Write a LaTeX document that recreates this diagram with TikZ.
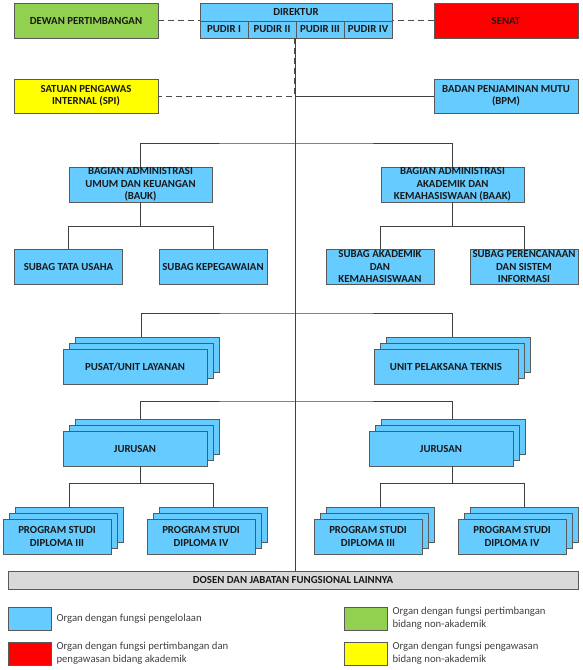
\documentclass[tikz,border=0pt]{standalone}
\usepackage{fontspec}
\setmainfont{Carlito}
\usetikzlibrary{positioning,shadows}
\definecolor{organblue}{HTML}{66CCFF}
\definecolor{organgreen}{HTML}{92D050}
\definecolor{organred}{HTML}{FF0000}
\definecolor{organyellow}{HTML}{FFFF00}
\definecolor{dosengray}{HTML}{D9D9D9}
\definecolor{linegray}{HTML}{404040}

\begin{document}
\begin{tikzpicture}[x=1pt,y=-1pt,
    organ/.style={draw=black!65,line width=0.9pt,fill=organblue,inner sep=0pt,
        minimum width=144pt,minimum height=35pt,align=center,
        font=\bfseries\fontsize{10.8}{12.3}\selectfont,text=black!90},
    small/.style={organ,minimum width=108pt},
    stack/.style={double copy shadow={shadow xshift=6pt,shadow yshift=6pt}},
    link/.style={draw=linegray,line width=0.8pt},
    advice/.style={draw=black!70,line width=1pt,dash pattern=on 6pt off 4pt},
    legend/.style={anchor=west,align=left,text=black!75,font=\fontsize{10.7}{13}\selectfont}]

            \useasboundingbox (0,0) rectangle (583,670);

            \node (dewan) at (86,20.5) [organ,fill=organgreen] {DEWAN PERTIMBANGAN};
            \node (senat) at (506,20.5) [organ,fill=organred] {SENAT};
            \node (dir) at (296,12) [organ,minimum width=192pt,minimum height=18pt] {DIREKTUR};
            \foreach \i/\r in {1/I,2/II,3/III,4/IV} {
                \node (p\i) at (176+48*\i,29.5) [organ,minimum width=48pt,minimum height=17pt] {PUDIR \r};
            }
            \node (spi) at (86,96) [organ,fill=organyellow,minimum height=34pt] {SATUAN PENGAWAS\\INTERNAL (SPI)};
            \node (bpm) at (506,96) [organ,minimum height=34pt] {BADAN PENJAMINAN MUTU\\(BPM)};

            \node (bauk) at (140.5,184.5) [organ,minimum width=143pt] {BAGIAN ADMINISTRASI\\UMUM DAN KEUANGAN\\(BAUK)};
            \node (baak) at (452.5,184.5) [organ,minimum width=143pt] {BAGIAN ADMINISTRASI\\AKADEMIK DAN\\KEMAHASISWAAN (BAAK)};
            \node (tu) at (68.5,266.5) [small] {SUBAG TATA USAHA};
            \node (kep) at (213,266.5) [small] {SUBAG KEPEGAWAIAN};
            \node (akd) at (380,266.5) [small] {SUBAG AKADEMIK\\DAN\\KEMAHASISWAAN};
            \node (per) at (524,266.5) [small] {SUBAG PERENCANAAN\\DAN SISTEM\\INFORMASI};

            \node (pusat) at (135,366.5) [organ,stack] {PUSAT/UNIT LAYANAN};
            \node (upt) at (446,366.5) [organ,stack] {UNIT PELAKSANA TEKNIS};
            \node (jl) at (135,448.5) [organ,stack] {JURUSAN};
            \node (jr) at (441,448.5) [organ,stack] {JURUSAN};
            \node (ps1) at (57,536.5) [small,stack] {PROGRAM STUDI\\DIPLOMA III};
            \node (ps2) at (201,536.5) [small,stack] {PROGRAM STUDI\\DIPLOMA IV};
            \node (ps3) at (368,536.5) [small,stack] {PROGRAM STUDI\\DIPLOMA III};
            \node (ps4) at (512,536.5) [small,stack] {PROGRAM STUDI\\DIPLOMA IV};

            \node (dosen) at (293,580) [organ,fill=dosengray,minimum width=570pt,minimum height=18pt] {DOSEN DAN JABATAN FUNGSIONAL LAINNYA};

            \draw[advice] (dewan.east) -- (dewan.east -| dir.west);
            \draw[advice] (senat.west) -- (senat.west -| dir.east);
            \draw[advice] ([xshift=-1pt]p3.south west) -- ([xshift=-1pt]p3.south west |- spi.east) -- (spi.east);
            \draw[link] (p3.south west) -- (p3.south west |- dosen.north);
            \draw[link] (bpm.west) -- (bpm.west -| p3.south west);

            \coordinate (j1) at (296,143);
            \coordinate (j3) at (296,313);
            \coordinate (j4) at (296,401);
            \draw[link] (bauk.north) |- (j1) -| (baak.north);
            \foreach \up/\a/\b in {bauk/tu/kep,baak/akd/per} {
                \draw[link] (\up.south) -- ++(0,24) coordinate (b-\up);
                \draw[link] (\a.north) |- (b-\up) -| (\b.north);
            }
            \draw[link] ([xshift=6pt,yshift=12pt]pusat.north) |- (j3) -| ([xshift=6pt,yshift=12pt]upt.north);
            \draw[link] ([xshift=5pt,yshift=12pt]jl.north) |- (j4) -| ([xshift=11pt,yshift=12pt]jr.north);
            \foreach \up/\s/\a/\b in {jl/5/ps1/ps2,jr/11/ps3/ps4} {
                \draw[link] ([xshift=\s pt]\up.south) -- ++(0,17) coordinate (b-\up);
                \draw[link] ([xshift=12pt,yshift=12pt]\a.north) |- (b-\up) -| ([xshift=12pt,yshift=12pt]\b.north);
            }

            \node (lblue) at (29.5,618.5) [organ,minimum width=43pt,minimum height=23pt] {};
            \node (lred) at (29.5,653.5) [organ,fill=organred,minimum width=43pt,minimum height=23pt] {};
            \node (lgreen) at (365.5,618.5) [organ,fill=organgreen,minimum width=43pt,minimum height=23pt] {};
            \node (lyellow) at (365.5,653.5) [organ,fill=organyellow,minimum width=43pt,minimum height=23pt] {};
            \node (tblue) at (53,618.5) [legend] {Organ dengan fungsi pengelolaan};
            \node (tred) at (53,653.5) [legend] {Organ dengan fungsi pertimbangan dan\\pengawasan bidang akademik};
            \node (tgreen) at (389,618.5) [legend] {Organ dengan fungsi pertimbangan\\bidang non-akademik};
            \node (tyellow) at (389,653.5) [legend] {Organ dengan fungsi pengawasan\\bidang non-akademik};

        \end{tikzpicture}
\end{document}
